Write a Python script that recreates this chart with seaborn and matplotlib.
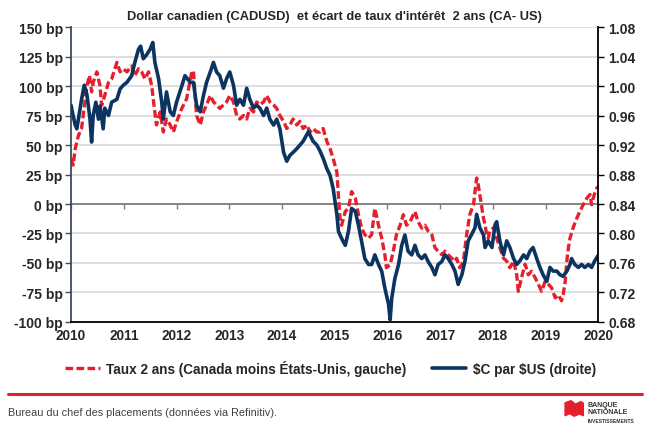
import numpy as np
import pandas as pd
import matplotlib
matplotlib.use("Agg")
import matplotlib.pyplot as plt
import seaborn as sns
from matplotlib.patches import Polygon

# 2-year spread Canada minus US (bp, left axis)
taux_dates = [2010.00, 2010.04, 2010.08, 2010.14, 2010.20, 2010.23, 2010.30, 2010.35, 2010.39, 2010.42,
              2010.49, 2010.55, 2010.58, 2010.64, 2010.71, 2010.77, 2010.87, 2010.93, 2010.99, 2011.06,
              2011.15, 2011.21, 2011.28, 2011.34, 2011.40, 2011.47, 2011.53, 2011.58, 2011.62, 2011.69,
              2011.75, 2011.81, 2011.88, 2011.94, 2012.00, 2012.10, 2012.19, 2012.29, 2012.32, 2012.38,
              2012.45, 2012.51, 2012.57, 2012.64, 2012.70, 2012.76, 2012.82, 2012.89, 2012.95, 2013.01,
              2013.08, 2013.14, 2013.20, 2013.27, 2013.33, 2013.39, 2013.46, 2013.52, 2013.58, 2013.65,
              2013.71, 2013.77, 2013.84, 2013.90, 2013.96, 2014.03, 2014.09, 2014.15, 2014.21, 2014.28,
              2014.34, 2014.40, 2014.47, 2014.53, 2014.59, 2014.66, 2014.72, 2014.78, 2014.85, 2014.91,
              2014.97, 2015.04, 2015.07, 2015.10, 2015.13, 2015.20, 2015.26, 2015.32, 2015.39, 2015.45,
              2015.51, 2015.57, 2015.64, 2015.70, 2015.76, 2015.83, 2015.89, 2015.95, 2015.98, 2016.05,
              2016.11, 2016.17, 2016.24, 2016.30, 2016.36, 2016.43, 2016.49, 2016.52, 2016.58, 2016.65,
              2016.71, 2016.77, 2016.84, 2016.90, 2016.96, 2017.03, 2017.09, 2017.15, 2017.22, 2017.28,
              2017.31, 2017.37, 2017.44, 2017.50, 2017.56, 2017.63, 2017.66, 2017.69, 2017.72, 2017.75,
              2017.79, 2017.82, 2017.85, 2017.88, 2017.91, 2017.94, 2018.01, 2018.07, 2018.13, 2018.20,
              2018.26, 2018.32, 2018.39, 2018.45, 2018.48, 2018.54, 2018.61, 2018.67, 2018.73, 2018.80,
              2018.86, 2018.92, 2018.99, 2019.05, 2019.11, 2019.18, 2019.24, 2019.30, 2019.33, 2019.37,
              2019.40, 2019.43, 2019.46, 2019.52, 2019.59, 2019.65, 2019.71, 2019.78, 2019.84, 2019.87,
              2019.92, 2019.97, 2020.00]
taux_bp = [38.6, 33, 47, 58, 64, 75, 100, 109, 95, 103,
           112, 100, 83.6, 92, 103, 106, 120, 112, 114.6, 112,
           117, 109, 114.6, 112, 106, 112, 100, 81, 67, 78,
           61, 72, 67, 61, 69.5, 81, 89, 112, 113, 75,
           67, 78, 84, 92, 86.5, 84, 81, 84, 86.5, 92,
           86.5, 75, 72, 75, 72, 81, 78, 86.5, 84, 86.5,
           92, 86.5, 84, 81, 75, 70, 64, 67, 72, 67,
           70, 64, 67, 61, 64, 61, 61, 64, 53, 47,
           38.6, 27, 7.6, -12, -18, -6.4, -3.6, 10.5, 5, -9,
           -20.5, -26, -29, -26, -3.6, -18, -29, -43, -54, -51.5,
           -40, -26, -18, -9, -18, -15, -9, -6.4, -15, -20.5,
           -18, -23, -26, -37, -40, -43, -40, -43, -46, -48.6,
           -46, -54, -48.4, -26, -9, -0.6, 10.7, 22, 16.5, 7.9,
           -3.4, -12, -17.5, -26, -29, -23, -20, -29, -37, -46,
           -48.4, -54, -48.4, -60, -74, -62.5, -51, -60, -57, -62.5,
           -68, -74, -65.5, -68, -71, -79.5, -77, -82, -77, -65.5,
           -48.4, -37, -29, -20, -12, -6, -0.6, 5, 8, -0.6,
           8, 13.5, 15]

# CAD in USD (right axis)
cad_dates = [2010.00, 2010.03, 2010.08, 2010.11, 2010.14, 2010.20, 2010.25, 2010.30, 2010.36, 2010.39,
             2010.42, 2010.47, 2010.52, 2010.55, 2010.61, 2010.64, 2010.71, 2010.77, 2010.87, 2010.93,
             2010.99, 2011.06, 2011.15, 2011.21, 2011.28, 2011.32, 2011.37, 2011.43, 2011.50, 2011.55,
             2011.59, 2011.66, 2011.72, 2011.75, 2011.81, 2011.88, 2011.94, 2012.00, 2012.10, 2012.16,
             2012.26, 2012.32, 2012.38, 2012.45, 2012.51, 2012.57, 2012.64, 2012.70, 2012.76, 2012.82,
             2012.89, 2012.95, 2013.01, 2013.08, 2013.14, 2013.20, 2013.27, 2013.33, 2013.39, 2013.46,
             2013.52, 2013.58, 2013.65, 2013.71, 2013.77, 2013.84, 2013.90, 2013.96, 2014.03, 2014.09,
             2014.15, 2014.21, 2014.28, 2014.34, 2014.40, 2014.50, 2014.59, 2014.66, 2014.72, 2014.78,
             2014.85, 2014.91, 2014.97, 2015.04, 2015.07, 2015.10, 2015.16, 2015.20, 2015.26, 2015.32,
             2015.39, 2015.45, 2015.51, 2015.57, 2015.64, 2015.70, 2015.76, 2015.83, 2015.89, 2015.95,
             2016.02, 2016.05, 2016.08, 2016.14, 2016.21, 2016.27, 2016.33, 2016.39, 2016.46, 2016.52,
             2016.58, 2016.65, 2016.71, 2016.77, 2016.84, 2016.90, 2016.96, 2017.03, 2017.09, 2017.15,
             2017.22, 2017.28, 2017.34, 2017.41, 2017.47, 2017.53, 2017.59, 2017.66, 2017.69, 2017.75,
             2017.82, 2017.85, 2017.91, 2017.98, 2018.04, 2018.07, 2018.13, 2018.20, 2018.26, 2018.32,
             2018.39, 2018.45, 2018.51, 2018.58, 2018.64, 2018.70, 2018.76, 2018.83, 2018.89, 2018.95,
             2019.02, 2019.08, 2019.14, 2019.21, 2019.27, 2019.33, 2019.40, 2019.46, 2019.49, 2019.55,
             2019.62, 2019.68, 2019.74, 2019.81, 2019.87, 2019.93, 2020.00]
cad_usd = [0.974, 0.963, 0.947, 0.942, 0.955, 0.982, 1.001, 0.989, 0.955, 0.924,
           0.960, 0.978, 0.955, 0.973, 0.942, 0.970, 0.960, 0.978, 0.982, 0.996,
           1.001, 1.005, 1.014, 1.032, 1.050, 1.054, 1.037, 1.042, 1.050, 1.059,
           1.032, 1.010, 0.978, 0.955, 0.992, 0.965, 0.960, 0.978, 1.000, 1.014,
           1.005, 1.005, 0.974, 0.965, 0.987, 1.005, 1.019, 1.032, 1.019, 1.014,
           0.997, 1.010, 1.019, 1.001, 0.974, 0.982, 0.974, 0.997, 0.982, 0.970,
           0.974, 0.970, 0.960, 0.970, 0.955, 0.947, 0.955, 0.942, 0.910, 0.898,
           0.906, 0.910, 0.915, 0.920, 0.925, 0.938, 0.925, 0.920, 0.912, 0.902,
           0.888, 0.879, 0.861, 0.826, 0.803, 0.798, 0.789, 0.784, 0.803, 0.834,
           0.830, 0.811, 0.789, 0.766, 0.758, 0.758, 0.771, 0.758, 0.749, 0.726,
           0.704, 0.683, 0.712, 0.739, 0.758, 0.784, 0.798, 0.776, 0.771, 0.784,
           0.771, 0.766, 0.771, 0.762, 0.754, 0.744, 0.758, 0.762, 0.771, 0.766,
           0.758, 0.749, 0.731, 0.744, 0.763, 0.790, 0.798, 0.808, 0.826, 0.808,
           0.798, 0.781, 0.790, 0.781, 0.812, 0.816, 0.790, 0.771, 0.790, 0.781,
           0.766, 0.758, 0.763, 0.771, 0.766, 0.776, 0.781, 0.766, 0.754, 0.744,
           0.735, 0.754, 0.749, 0.749, 0.744, 0.742, 0.749, 0.758, 0.766, 0.758,
           0.754, 0.758, 0.754, 0.758, 0.754, 0.763, 0.771]

left_ticks = [-100, -75, -50, -25, 0, 25, 50, 75, 100, 125, 150]
right_ticks = [0.68, 0.72, 0.76, 0.80, 0.84, 0.88, 0.92, 0.96, 1.00, 1.04, 1.08]
years = list(range(2010, 2021))

red = "#E5202E"
navy = "#0B3560"

sns.set_theme(style="white")
plt.rcParams["font.family"] = ["Liberation Sans", "DejaVu Sans"]

df_taux = pd.DataFrame({"date": taux_dates, "bp": taux_bp})
df_cad = pd.DataFrame({"date": cad_dates, "cad": cad_usd})

fig = plt.figure(figsize=(6.54, 4.31), dpi=100)
ax = fig.add_axes([0.1086, 0.2506, 0.8065, 0.6844])

sns.lineplot(data=df_taux, x="date", y="bp", ax=ax, color=red, linewidth=2.4,
             linestyle=(0, (2.3, 1.0)), label="Taux 2 ans (Canada moins États-Unis, gauche)",
             legend=False)
ax.set_xlim(2010, 2020)
ax.set_ylim(-100, 150)
ax.set_yticks(left_ticks)
ax.set_yticklabels([f"{v} bp" for v in left_ticks])
ax.set_xticks(years)
ax.set_xticklabels([str(y) for y in years])
ax.grid(axis="y", color="#d9d9d9", linewidth=1.2)
ax.axhline(0, color="#7f7f7f", linewidth=1.3, zorder=1.5)
ax.set_xlabel("")
ax.set_ylabel("")
for s in ["top", "right"]:
    ax.spines[s].set_visible(False)
ax.spines["left"].set_color("#3d4b59")
ax.spines["left"].set_linewidth(1.3)
ax.spines["bottom"].set_color("black")
ax.spines["bottom"].set_linewidth(1.3)
ax.tick_params(axis="y", direction="out", length=4, width=1, color="#3d4b59",
               labelsize=10, pad=2, left=True)
ax.tick_params(axis="x", length=0, labelsize=9.8, pad=4)
for t in ax.get_xticklabels() + ax.get_yticklabels():
    t.set_fontweight("bold")

# tick marks sitting on the zero line
sec = ax.secondary_xaxis(0.4)
sec.set_xticks(years)
sec.tick_params(axis="x", direction="out", length=3.5, width=1, color="#7f7f7f", labelbottom=False)
sec.spines["bottom"].set_visible(False)

ax2 = ax.twinx()
sns.lineplot(data=df_cad, x="date", y="cad", ax=ax2, color=navy, linewidth=2.6,
             label=r"\$C par \$US (droite)", legend=False)
ax2.set_ylim(0.68, 1.08)
ax2.set_yticks(right_ticks)
ax2.set_yticklabels([f"{v:.2f}" for v in right_ticks])
ax2.set_ylabel("")
for s in ["top", "left", "bottom"]:
    ax2.spines[s].set_visible(False)
ax2.spines["right"].set_color("black")
ax2.spines["right"].set_linewidth(1.3)
ax2.tick_params(axis="y", direction="out", length=4, width=1, color="black",
                labelsize=10, pad=3, right=True)
for t in ax2.get_yticklabels():
    t.set_fontweight("bold")
ax2.grid(False)

fig.text(0.512, 0.961, "Dollar canadien (CADUSD)  et écart de taux d'intérêt  2 ans (CA- US)",
         ha="center", va="center", fontsize=9.3, fontweight="bold")

h1, l1 = ax.get_legend_handles_labels()
h2, l2 = ax2.get_legend_handles_labels()
fig.legend(h1 + h2, l1 + l2, loc="center", bbox_to_anchor=(0.506, 0.144), ncol=2,
           frameon=False, handlelength=2.5, columnspacing=1.9, handletextpad=0.5,
           prop={"weight": "bold", "size": 9.8})

# footer
fig.add_artist(plt.Line2D([0.012, 0.982], [0.083, 0.083], color=red, linewidth=2.2))
fig.text(0.012, 0.042, "Bureau du chef des placements (données via Refinitiv).",
         fontsize=7.8, color="#404040", va="center", ha="left")

flag = Polygon([[0.864, 0.063], [0.873, 0.068], [0.880, 0.060], [0.888, 0.066],
                [0.892, 0.062], [0.892, 0.033], [0.886, 0.037], [0.878, 0.032],
                [0.871, 0.038], [0.864, 0.033]],
               closed=True, transform=fig.transFigure, color=red)
fig.add_artist(flag)
fig.text(0.899, 0.060, "BANQUE", fontsize=5, fontweight="bold", color="#333333", va="center")
fig.text(0.899, 0.044, "NATIONALE", fontsize=5, fontweight="bold", color="#333333", va="center")
fig.text(0.899, 0.021, "INVESTISSEMENTS", fontsize=3.6, fontweight="bold", color="#333333", va="center")

fig.savefig("out.png", dpi=100)
